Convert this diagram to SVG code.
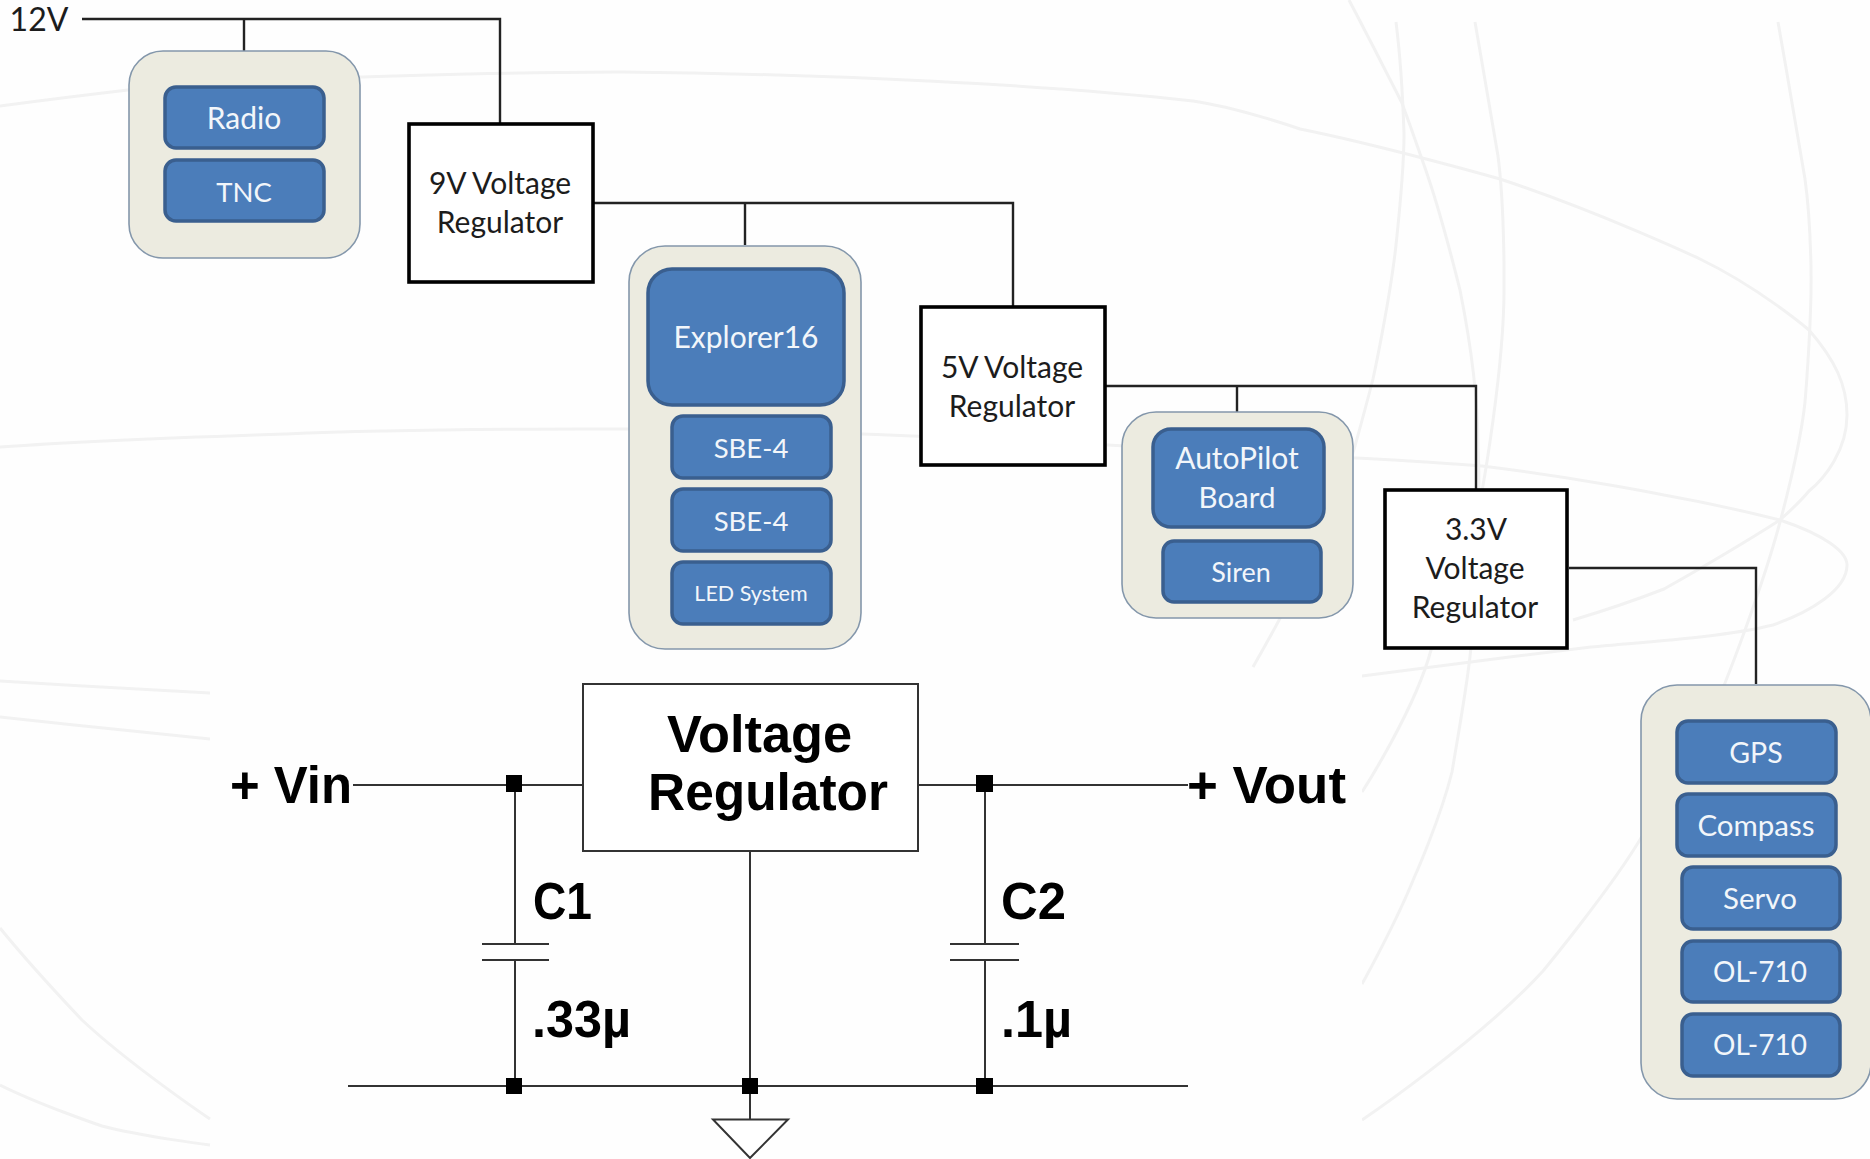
<svg xmlns="http://www.w3.org/2000/svg" width="1870" height="1159" viewBox="0 0 1870 1159">
<style>
.bg{fill:none;stroke:#f2f2f2;stroke-width:3}
.wire{fill:none;stroke:#222;stroke-width:2.4}
.swire{fill:none;stroke:#333;stroke-width:2}
.grp{fill:#ecebe0;stroke:#8497ab;stroke-width:1.6}
.blk{fill:#4b7dba;stroke:#3a5f8f;stroke-width:3.5}
.reg{fill:#fff;stroke:#000;stroke-width:3.6}
.lt{font-family:Lato,"Liberation Sans",sans-serif;font-size:29.500px;fill:#f2f6fa;text-anchor:middle}
.dk{font-family:Lato,"Liberation Sans",sans-serif;font-size:30px;fill:#1c1c1c;text-anchor:middle}
.ar{font-family:"Liberation Sans",Arial,sans-serif;font-weight:bold;font-size:51px;fill:#000}
.dot{fill:#000}
</style>
<rect width="1870" height="1159" fill="#fefefe"/>
<g id="background">
<path class="bg" d="M0 106C60 98 128 90 128 90C240 80 362 77 362 77C460 73 620 72 620 72C835 74 1050 85 1193 101C1240 108 1300 129 1300 129C1380 145 1500 179 1500 179C1600 212 1700 259 1700 259C1760 288 1809 330 1809 330C1835 360 1847 385 1847 415C1847 450 1825 478 1809 491C1800 502 1780 520 1780 520C1730 552 1664 589 1664 589C1620 606 1573 620 1573 620"/>
<path class="bg" d="M0 447C100 440 286 434 286 434C420 428 628 429 628 429C720 430 861 434 861 434C950 437 1107 445 1107 445C1200 450 1355 458 1355 458C1400 460 1482 466 1482 466C1580 478 1664 495 1664 495C1720 505 1780 520 1780 520C1825 535 1847 552 1847 565C1847 590 1810 612 1773 625C1720 638 1640 642 1591 647C1500 658 1362 676 1362 676"/>
<path class="bg" d="M1349 0C1370 40 1402 103 1402 103C1410 125 1424 165 1424 165C1440 210 1460 290 1460 290C1472 350 1478 400 1478 446C1482 520 1471 647 1471 647C1468 680 1464 700 1452 772C1440 820 1414 878 1414 878C1395 925 1362 984 1362 984"/>
<path class="bg" d="M1396 22C1402 70 1404 134 1404 134C1404 170 1396 245 1396 245C1390 300 1373 379 1373 379C1365 410 1355 446 1355 446C1330 530 1280 620 1253 667"/>
<path class="bg" d="M1475 22C1485 80 1498 156 1498 156C1505 210 1504 290 1504 290C1504 370 1482 491 1482 491C1470 570 1440 640 1431 650C1415 710 1362 792 1362 792"/>
<path class="bg" d="M1778 22C1790 90 1805 179 1805 179C1810 215 1811 268 1811 268C1812 320 1805 402 1805 402C1800 450 1780 522 1780 522C1762 590 1725 683 1725 683C1700 740 1641 838 1641 838C1610 890 1543 971 1543 971C1480 1040 1362 1120 1362 1120"/>
<path class="bg" d="M0 681C80 686 210 693 210 693"/>
<path class="bg" d="M0 717C80 726 210 739 210 739"/>
<path class="bg" d="M0 928C30 965 82 1020 82 1020C130 1065 210 1119 210 1119"/>
<path class="bg" d="M0 1085C40 1105 102 1126 102 1126C145 1137 210 1145 210 1145"/>
<rect x="211" y="668" width="1151" height="491" fill="#fefefe"/>
</g>
<g id="connectors">
<path class="wire" d="M82 19H500V123M244 19V51"/>
<path class="wire" d="M593 203H1013V306M745 203V245"/>
<path class="wire" d="M1106 386H1476V489M1237 386V412"/>
<path class="wire" d="M1569 568H1756V684"/>
<path class="swire" d="M353 785H583M918 785H1188M348 1086H1188M515 785V944M515 960V1086M985 785V944M985 960V1086M750 851V1119"/>
<path class="swire" d="M482 944H549M482 960H549M950 944H1019M950 960H1019"/>
<rect class="dot" x="506" y="775" width="16" height="17"/>
<rect class="dot" x="976" y="775" width="17" height="17"/>
<rect class="dot" x="506" y="1078" width="16" height="16"/>
<rect class="dot" x="742" y="1078" width="16" height="16"/>
<rect class="dot" x="976" y="1078" width="17" height="16"/>
<path d="M713 1119.500H788L750 1158Z" fill="#fff" stroke="#333" stroke-width="2"/>
</g>
<g id="label-12v"><text class="dk" x="39" y="31" style="font-size:32px">12V</text></g>
<g id="group-radio">
<rect class="grp" x="129" y="51" width="231" height="207" rx="34"/>
<rect class="blk" x="165" y="87" width="159" height="61" rx="11"/><text class="lt" x="244" y="129" style="font-size:30px">Radio</text>
<rect class="blk" x="165" y="160" width="159" height="61" rx="11"/><text class="lt" x="244" y="202" style="font-size:27.500px">TNC</text>
</g>
<g id="reg-9v"><rect class="reg" x="409" y="124" width="184" height="158"/><text class="dk" x="500" y="194">9V Voltage</text><text class="dk" x="500" y="233">Regulator</text></g>
<g id="group-explorer">
<rect class="grp" x="629" y="246" width="232" height="403" rx="36"/>
<rect class="blk" x="648" y="269" width="196" height="136" rx="24"/><text class="lt" x="746" y="348" style="font-size:30px">Explorer16</text>
<rect class="blk" x="672" y="416" width="159" height="62" rx="11"/><text class="lt" x="751" y="458" style="font-size:27.500px">SBE-4</text>
<rect class="blk" x="672" y="489" width="159" height="62" rx="11"/><text class="lt" x="751" y="531" style="font-size:27.500px">SBE-4</text>
<rect class="blk" x="672" y="562" width="159" height="62" rx="11"/><text class="lt" x="751" y="601" style="font-size:21.500px">LED System</text>
</g>
<g id="reg-5v"><rect class="reg" x="921" y="307" width="184" height="158"/><text class="dk" x="1012" y="378">5V Voltage</text><text class="dk" x="1012" y="417">Regulator</text></g>
<g id="group-autopilot">
<rect class="grp" x="1122" y="412" width="231" height="206" rx="34"/>
<rect class="blk" x="1153" y="429" width="171" height="98" rx="18"/><text class="lt" x="1237" y="469" style="font-size:30px">AutoPilot</text><text class="lt" x="1237" y="508">Board</text>
<rect class="blk" x="1163" y="541" width="158" height="61" rx="11"/><text class="lt" x="1241" y="582" style="font-size:27px">Siren</text>
</g>
<g id="reg-33v"><rect class="reg" x="1385" y="490" width="182" height="158"/><text class="dk" x="1476" y="540">3.3V</text><text class="dk" x="1475" y="579">Voltage</text><text class="dk" x="1475" y="618">Regulator</text></g>
<g id="group-sensors">
<rect class="grp" x="1641" y="685" width="230" height="414" rx="36"/>
<rect class="blk" x="1677" y="721" width="159" height="62" rx="11"/><text class="lt" x="1756" y="763" style="font-size:28.500px">GPS</text>
<rect class="blk" x="1677" y="794" width="159" height="62" rx="11"/><text class="lt" x="1756" y="836">Compass</text>
<rect class="blk" x="1682" y="867" width="158" height="62" rx="11"/><text class="lt" x="1760" y="909">Servo</text>
<rect class="blk" x="1682" y="941" width="158" height="61" rx="11"/><text class="lt" x="1760" y="982" style="font-size:28px">OL-710</text>
<rect class="blk" x="1682" y="1014" width="158" height="62" rx="11"/><text class="lt" x="1760" y="1055" style="font-size:28px">OL-710</text>
</g>
<g id="regulator-circuit">
<rect x="583" y="684" width="335" height="167" fill="#fff" stroke="#333" stroke-width="2"/>
<text class="ar" x="667" y="752" textLength="185" lengthAdjust="spacingAndGlyphs">Voltage</text>
<text class="ar" x="648" y="810" textLength="240" lengthAdjust="spacingAndGlyphs">Regulator</text>
<text class="ar" x="230" y="803" textLength="122" lengthAdjust="spacingAndGlyphs">+ Vin</text>
<text class="ar" x="1187" y="803" textLength="159" lengthAdjust="spacingAndGlyphs">+ Vout</text>
<text class="ar" x="533" y="919" textLength="59" lengthAdjust="spacingAndGlyphs">C1</text>
<text class="ar" x="532" y="1037" textLength="99" lengthAdjust="spacingAndGlyphs">.33µ</text>
<text class="ar" x="1001" y="919" textLength="65" lengthAdjust="spacingAndGlyphs">C2</text>
<text class="ar" x="1001" y="1037" textLength="71" lengthAdjust="spacingAndGlyphs">.1µ</text>
</g>
</svg>
